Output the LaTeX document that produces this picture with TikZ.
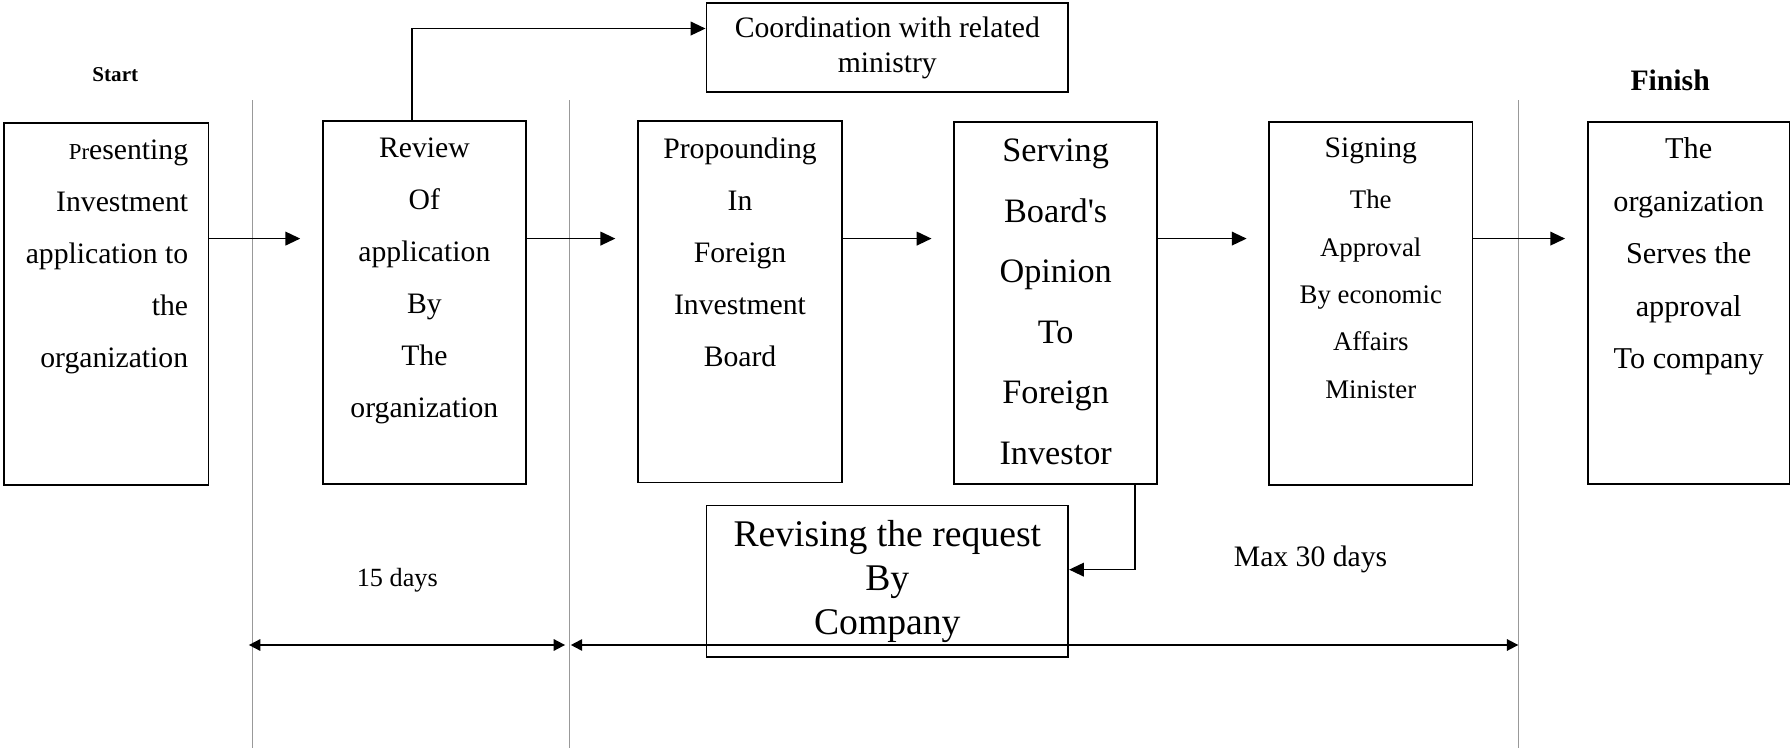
\documentclass[tikz,border=0pt]{standalone}
\usepackage{fontspec}
\setmainfont{Liberation Serif}[Ligatures=TeXOff]
\usetikzlibrary{arrows.meta,calc}
\begin{document}
\begin{tikzpicture}[x=1pt,y=-1pt,
  box/.style={draw, line width=1.5pt, inner sep=0pt, anchor=north west},
  txt/.style={inner sep=0pt, align=center, anchor=north, font=\fontsize{26}{45.5}\selectfont},
  arr/.style={line width=1.4pt, -{Triangle[length=13pt,width=12pt]}},
  dim/.style={line width=1.6pt, {Triangle[length=10pt,width=10pt]}-{Triangle[length=10pt,width=10pt]}},
  lane/.style={draw=black!40, line width=1pt}]
\useasboundingbox (0,0) rectangle (1568,655);

% swim-lane separators
\coordinate (v1t) at (221,88);  \coordinate (v1b) at (221,655);
\coordinate (v2t) at (499,88);  \coordinate (v2b) at (499,655);
\coordinate (v3t) at (1330,88); \coordinate (v3b) at (1330,655);
\draw[lane] (v1t) -- (v1b);
\draw[lane] (v2t) -- (v2b);
\draw[lane] (v3t) -- (v3b);

% boxes
\node[box, minimum width=179pt, minimum height=317pt] (b1) at (3,107) {};
\node[box, minimum width=178pt, minimum height=318pt] (b2) at (282,105) {};
\node[box, minimum width=179pt, minimum height=317pt] (b3) at (558,105) {};
\node[box, minimum width=178pt, minimum height=317pt] (b4) at (835,106) {};
\node[box, minimum width=178pt, minimum height=318pt] (b5) at (1111,106) {};
\node[box, minimum width=177pt, minimum height=317pt] (b6) at (1390,106) {};
\node[box, minimum width=317pt, minimum height=78pt, align=center,
      font=\fontsize{26}{31}\selectfont] (co) at (618,2) {Coordination with related\\ministry};
\node[box, minimum width=317pt, minimum height=133pt, align=center,
      font=\fontsize{33}{38.5}\selectfont] (rev) at (618,442) {Revising the request\\By\\Company};

% box texts
\node[txt, anchor=north east, align=right] (t1) at (165,122.5)
  {{\fontsize{20}{24}\selectfont Pr}esenting\\Investment\\application to\\the\\organization};
\node[txt] (t2) at ($(b2.north)+(0,15.5)$) {Review\\Of\\application\\By\\The\\organization};
\node[txt] (t3) at ($(b3.north)+(0,15.5)$) {Propounding\\In\\Foreign\\Investment\\Board};
\node[txt, font=\fontsize{30}{53}\selectfont] (t4) at ($(b4.north)+(0,15.5)$)
  {Serving\\Board's\\Opinion\\To\\Foreign\\Investor};
\node[txt, font=\fontsize{23.5}{41.5}\selectfont] (t5) at ($(b5.north)+(0,14.5)$)
  {{\fontsize{26}{30}\selectfont Signing}\\[3.5pt]The\\Approval\\By economic\\Affairs\\Minister};
\node[txt, font=\fontsize{26.5}{46}\selectfont] (t6) at ($(b6.north)+(0,14.5)$)
  {The\\organization\\Serves the\\approval\\To company};

% labels
\node[font=\bfseries\fontsize{18.5}{20}\selectfont] (start) at (101,65) {Start};
\node[font=\bfseries\fontsize{26}{30}\selectfont] (finish) at (1463,70) {Finish};
\node[font=\fontsize{23}{26}\selectfont] (d15) at (348,508) {15 days};
\node[font=\fontsize{26}{30}\selectfont] (d30) at (1148,490) {Max 30 days};

% main flow
\coordinate (row) at (0,209);
\draw[arr, shorten >=19pt] (b1.east |- row) -- (b2.west |- row);
\draw[arr, shorten >=19pt] (b2.east |- row) -- (b3.west |- row);
\draw[arr, shorten >=19pt] (b3.east |- row) -- (b4.west |- row);
\draw[arr, shorten >=19pt] (b4.east |- row) -- (b5.west |- row);
\draw[arr, shorten >=19pt] (b5.east |- row) -- (b6.west |- row);

% side branches
\coordinate (up) at (361,25);
\draw[arr] (up |- b2.north) -- (up) -- (up -| co.west);
\coordinate (fb) at (994,499);
\draw[arr] (fb |- b4.south) -- (fb) -- (fb -| rev.east);

% durations
\coordinate (dimrow) at (0,565);
\draw[dim, shorten <=-3pt, shorten >=4pt] (v1t |- dimrow) -- (v2t |- dimrow);
\draw[dim, shorten <=1pt] (v2t |- dimrow) -- (v3t |- dimrow);
\end{tikzpicture}
\end{document}
